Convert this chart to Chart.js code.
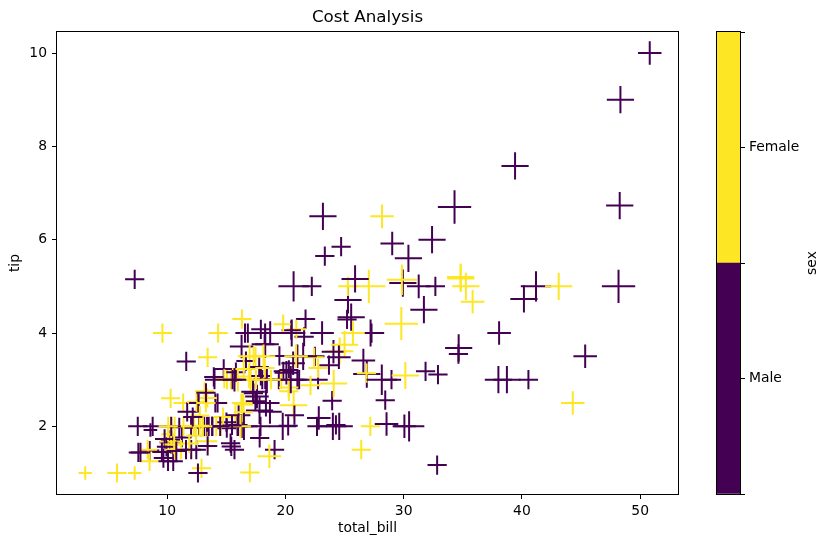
<!DOCTYPE html>
<html>
<head>
<meta charset="utf-8">
<title>Cost Analysis</title>
<script src="https://cdn.jsdelivr.net/npm/chart.js@4.4.1/dist/chart.umd.min.js"></script>
<style>
  html, body { margin: 0; padding: 0; background: #fff; }
  #wrap { position: relative; width: 828px; height: 547px; }
  #main { position: absolute; left: 0; top: 0; }
  #cbar { position: absolute; left: 700px; top: 0; }
</style>
</head>
<body>
<div id="wrap">
  <canvas id="main" width="828" height="547"></canvas>
  <canvas id="cbar" width="128" height="547"></canvas>
</div>
<script>
// tips data: total bill, tip, sex (0 = Male, 1 = Female), party size
const totalBill = [
  16.99,10.34,21.01,23.68,24.59,25.29,8.77,26.88,15.04,14.78,
  10.27,35.26,15.42,18.43,14.83,21.58,10.33,16.29,16.97,20.65,
  17.92,20.29,15.77,39.42,19.82,17.81,13.37,12.69,21.70,19.65,
  9.55,18.35,15.06,20.69,17.78,24.06,16.31,16.93,18.69,31.27,
  16.04,17.46,13.94,9.68,30.40,18.29,22.23,32.40,28.55,18.04,
  12.54,10.29,34.81,9.94,25.56,19.49,38.01,26.41,11.24,48.27,
  20.29,13.81,11.02,18.29,17.59,20.08,16.45,3.07,20.23,15.01,
  12.02,17.07,26.86,25.28,14.73,10.51,17.92,27.20,22.76,17.29,
  19.44,16.66,10.07,32.68,15.98,34.83,13.03,18.28,24.71,21.16,
  28.97,22.49,5.75,16.32,22.75,40.17,27.28,12.03,21.01,12.46,
  11.35,15.38,44.30,22.42,20.92,15.36,20.49,25.21,18.24,14.31,
  14.00,7.25,38.07,23.95,25.71,17.31,29.93,10.65,12.43,24.08,
  11.69,13.42,14.26,15.95,12.48,29.80,8.52,14.52,11.38,22.82,
  19.08,20.27,11.17,12.26,18.26,8.51,10.33,14.15,16.00,13.16,
  17.47,34.30,41.19,27.05,16.43,8.35,18.64,11.87,9.78,7.51,
  14.07,13.13,17.26,24.55,19.77,29.85,48.17,25.00,13.39,16.49,
  21.50,12.66,16.21,13.81,17.51,24.52,20.76,31.71,10.59,10.63,
  50.81,15.81,7.25,31.85,16.82,32.90,17.89,14.48,9.60,34.63,
  34.65,23.33,45.35,23.17,40.55,20.69,20.90,30.46,18.15,23.10,
  15.69,19.81,28.44,15.48,16.58,7.56,10.34,43.11,13.00,13.51,
  18.71,12.74,13.00,16.40,20.53,16.47,26.59,38.73,24.27,12.76,
  30.06,25.89,48.33,13.27,28.17,12.90,28.15,11.59,7.74,30.14,
  12.16,13.42,8.58,15.98,13.42,16.27,10.09,20.45,13.28,22.12,
  24.01,15.69,11.61,10.77,15.53,10.07,12.60,32.83,35.83,29.03,
  27.18,22.67,17.82,18.78
];
const tip = [
  1.01,1.66,3.50,3.31,3.61,4.71,2.00,3.12,1.96,3.23,
  1.71,5.00,1.57,3.00,3.02,3.92,1.67,3.71,3.50,3.35,
  4.08,2.75,2.23,7.58,3.18,2.34,2.00,2.00,4.30,3.00,
  1.45,2.50,3.00,2.45,3.27,3.60,2.00,3.07,2.31,5.00,
  2.24,2.54,3.06,1.32,5.60,3.00,5.00,6.00,2.05,3.00,
  2.50,2.60,5.20,1.56,4.34,3.51,3.00,1.50,1.76,6.73,
  3.21,2.00,1.98,3.76,2.64,3.15,2.47,1.00,2.01,2.09,
  1.97,3.00,3.14,5.00,2.20,1.25,3.08,4.00,3.00,2.71,
  3.00,3.40,1.83,5.00,2.03,5.17,2.00,4.00,5.85,3.00,
  3.00,3.50,1.00,4.30,3.25,4.73,4.00,1.50,3.00,1.50,
  2.50,3.00,2.50,3.48,4.08,1.64,4.06,4.29,3.76,4.00,
  3.00,1.00,4.00,2.55,4.00,3.50,5.07,1.50,1.80,2.92,
  2.31,1.68,2.50,2.00,2.52,4.20,1.48,2.00,2.00,2.18,
  1.50,2.83,1.50,2.00,3.25,1.25,2.00,2.00,2.00,2.75,
  3.50,6.70,5.00,5.00,2.30,1.50,1.36,1.63,1.73,2.00,
  2.50,2.00,2.74,2.00,2.00,5.14,5.00,3.75,2.61,2.00,
  3.50,2.50,2.00,2.00,3.00,3.48,2.24,4.50,1.61,2.00,
  10.00,3.16,5.15,3.18,4.00,3.11,2.00,2.00,4.00,3.55,
  3.68,5.65,3.50,6.50,3.00,5.00,3.50,2.00,3.50,4.00,
  1.50,4.19,2.56,2.02,4.00,1.44,2.00,5.00,2.00,2.00,
  4.00,2.01,2.00,2.50,4.00,3.23,3.41,3.00,2.03,2.23,
  2.00,5.16,9.00,2.50,6.50,1.10,3.00,1.50,1.44,3.09,
  2.20,3.48,1.92,3.00,1.58,2.50,2.00,3.00,2.72,2.88,
  2.00,3.00,3.39,1.47,3.00,1.25,1.00,1.17,4.67,5.92,
  2.00,2.00,1.75,3.00
];
const sexCode = [
  1,0,0,0,1,0,0,0,0,0, 0,1,0,0,1,0,1,0,1,0, 0,1,1,0,0,0,0,0,0,1,
  0,0,1,1,0,0,0,1,0,0, 0,0,0,0,0,0,0,0,0,0, 0,1,1,0,0,0,0,1,0,0,
  0,0,0,0,0,0,1,1,0,0, 0,1,1,1,1,0,0,0,0,0, 0,0,1,0,0,1,0,0,0,0,
  0,0,1,1,1,0,0,0,0,0, 1,1,1,1,1,0,0,0,0,1, 0,1,0,0,1,1,0,1,1,1,
  0,1,0,0,1,1,0,1,1,0, 0,1,1,1,1,1,1,1,0,1, 1,0,0,1,1,1,1,1,0,0,
  0,0,0,0,0,1,0,1,1,0, 0,0,1,0,1,0,0,0,1,1, 0,0,0,0,0,0,0,0,1,0,
  0,0,0,0,0,0,1,0,1,0, 0,1,0,0,0,0,0,1,1,0, 0,1,1,1,0,1,0,0,0,1,
  0,0,0,1,1,1,0,0,0,1, 0,1,0,1,0,1,1,0,0,1, 0,0,0,0,0,0,0,0,1,0,
  1,0,0,1
];
const partySize = [
  2,3,3,2,4,4,2,4,2,2, 2,4,2,4,2,2,3,3,3,3, 2,2,2,4,2,4,2,2,2,2,
  2,4,2,4,2,3,3,3,3,3, 3,2,2,2,4,2,2,4,3,2, 2,2,4,2,4,2,4,2,2,4,
  2,2,2,4,3,3,2,1,2,2, 2,3,2,2,2,2,2,4,2,2, 2,2,1,2,2,4,2,2,2,2,
  2,2,2,2,2,4,2,2,2,2, 2,2,3,2,2,2,2,2,2,2, 2,1,3,2,3,2,4,2,2,4,
  2,2,2,2,2,6,2,2,2,3, 2,2,2,2,2,2,2,2,2,2, 2,6,5,6,2,2,3,2,2,2,
  2,2,3,4,4,5,6,4,2,4, 4,2,3,2,2,3,2,4,2,2, 3,2,2,2,2,2,2,2,2,2,
  4,2,3,4,2,5,3,5,3,3, 2,2,2,2,2,2,2,4,2,2, 3,2,2,2,4,3,3,4,2,2,
  3,4,4,2,3,2,5,2,2,4, 2,2,1,3,2,2,2,4,2,2, 4,3,2,2,2,2,2,2,3,3,
  2,2,2,2
];
const sexLabels = ['Male', 'Female'];
const sexColors = ['#440154', '#fde725'];
const sexTickPos = [0.5, 1.5];
const cbarTicks = [0, 0.5, 1, 1.5, 2];
const xTicks = [10, 20, 30, 40, 50];
const yTicks = [2, 4, 6, 8, 10];

const FONT = 'DejaVu Sans';
const tickFont = { family: FONT, size: 13.9 };

// black box round the plot area, like the matplotlib spines
const frame = {
    id: 'frame',
    afterDatasetsDraw(chart) {
        const a = chart.chartArea;
        const ctx = chart.ctx;
        ctx.save();
        ctx.strokeStyle = '#000';
        ctx.lineWidth = 1;
        ctx.strokeRect(Math.round(a.left) - 0.5, Math.round(a.top) - 0.5,
            Math.round(a.right - a.left) + 1, Math.round(a.bottom - a.top) + 1);
        ctx.restore();
    }
};

// colorbar label reads bottom-to-top, Chart.js right titles go the other way
const sexTitle = {
    id: 'sexTitle',
    afterDraw(chart) {
        const a = chart.chartArea;
        const ctx = chart.ctx;
        ctx.save();
        ctx.translate(112, (a.top + a.bottom) / 2);
        ctx.rotate(-Math.PI / 2);
        ctx.fillStyle = '#000';
        ctx.font = '13.9px "' + FONT + '"';
        ctx.textAlign = 'center';
        ctx.textBaseline = 'middle';
        ctx.fillText('sex', 0, 0);
        ctx.restore();
    }
};

const points = totalBill.map((x, i) => ({ x: x, y: tip[i] }));

new Chart(document.getElementById('main'), {
    type: 'scatter',
    data: {
        datasets: [{
            data: points,
            pointStyle: 'cross',
            pointRadius: partySize.map(s => 6.8 * Math.sqrt(s)),
            pointBorderColor: sexCode.map(c => sexColors[c]),
            pointBackgroundColor: sexCode.map(c => sexColors[c]),
            pointBorderWidth: 2
        }]
    },
    options: {
        responsive: false,
        animation: false,
        events: [],
        devicePixelRatio: 1,
        layout: { padding: { left: 0, right: 150, top: 0, bottom: 0 } },
        plugins: {
            legend: { display: false },
            tooltip: { enabled: false },
            title: {
                display: true,
                text: 'Cost Analysis',
                fullSize: false,
                color: '#000',
                font: { family: FONT, size: 16.7, weight: 'normal' },
                padding: { top: 8, bottom: 4 }
            }
        },
        scales: {
            x: {
                type: 'linear',
                min: 0.68,
                max: 53.2,
                afterFit: s => { s.height = 53; },
                afterBuildTicks: s => { s.ticks = xTicks.map(v => ({ value: v })); },
                grid: { drawOnChartArea: false, drawTicks: true, tickLength: 5, color: '#000' },
                border: { display: false },
                ticks: { color: '#000', font: tickFont, padding: 4, maxRotation: 0 },
                title: { display: true, text: 'total_bill', color: '#000', font: tickFont, padding: { top: 0, bottom: 10 } }
            },
            y: {
                type: 'linear',
                min: 0.55,
                max: 10.45,
                afterFit: s => { s.width = 57; },
                afterBuildTicks: s => { s.ticks = yTicks.map(v => ({ value: v })); },
                grid: { drawOnChartArea: false, drawTicks: true, tickLength: 5, color: '#000' },
                border: { display: false },
                ticks: { color: '#000', font: tickFont, padding: 5 },
                title: { display: true, text: 'tip', color: '#000', font: tickFont, padding: { top: 7, bottom: 0 } }
            }
        }
    },
    plugins: [frame]
});

new Chart(document.getElementById('cbar'), {
    type: 'bar',
    data: {
        labels: ['sex'],
        datasets: sexLabels.map((name, i) => ({
            label: name,
            data: [1],
            backgroundColor: sexColors[i],
            borderWidth: 0,
            categoryPercentage: 1,
            barPercentage: 1
        }))
    },
    options: {
        responsive: false,
        animation: false,
        events: [],
        devicePixelRatio: 1,
        layout: { padding: { left: 17, top: 32, bottom: 53, right: 0 } },
        plugins: { legend: { display: false }, tooltip: { enabled: false } },
        scales: {
            x: { display: false, stacked: true },
            y: {
                position: 'right',
                stacked: true,
                min: 0,
                max: 2,
                afterFit: s => { s.width = 88; },
                afterBuildTicks: s => { s.ticks = cbarTicks.map(v => ({ value: v })); },
                grid: { drawOnChartArea: false, drawTicks: true, tickLength: 5, color: '#000' },
                border: { display: false },
                ticks: {
                    color: '#000',
                    font: tickFont,
                    padding: 4,
                    callback: v => {
                        const k = sexTickPos.indexOf(v);
                        return k >= 0 ? sexLabels[k] : '';
                    }
                }
            }
        }
    },
    plugins: [frame, sexTitle]
});
</script>
</body>
</html>
